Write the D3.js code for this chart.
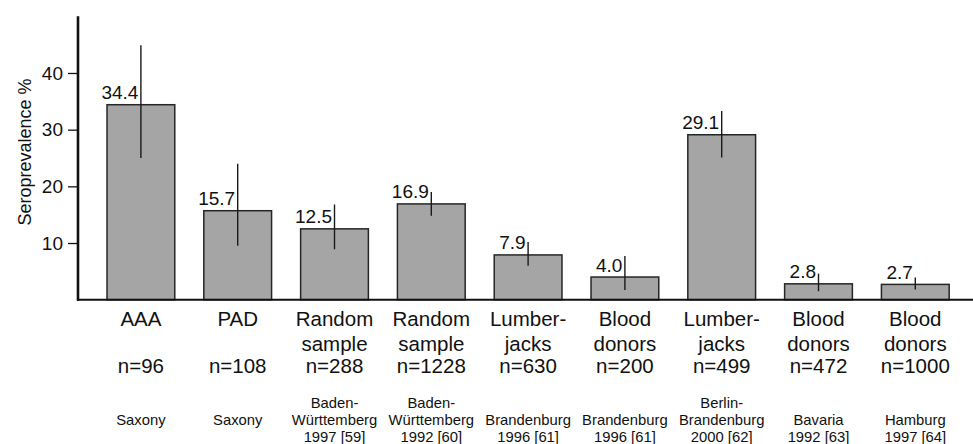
<!DOCTYPE html>
<meta charset="utf-8">
<body style="margin:0;background:#fff">

<svg width="973" height="444"></svg>

<script src="https://d3js.org/d3.v7.min.js"></script>
<script>

// data
var groups = ["AAA", "PAD", "Random sample", "Random sample", "Lumber- jacks",
  "Blood donors", "Lumber- jacks", "Blood donors", "Blood donors"];
var groupLines = [["AAA"], ["PAD"], ["Random", "sample"], ["Random", "sample"],
  ["Lumber-", "jacks"], ["Blood", "donors"], ["Lumber-", "jacks"], ["Blood", "donors"], ["Blood", "donors"]];
var sizes = ["n=96", "n=108", "n=288", "n=1228", "n=630", "n=200", "n=499", "n=472", "n=1000"];
var regions = [["", "Saxony", ""], ["", "Saxony", ""],
  ["Baden-", "Württemberg", "1997 [59]"], ["Baden-", "Württemberg", "1992 [60]"],
  ["", "Brandenburg", "1996 [61]"], ["", "Brandenburg", "1996 [61]"],
  ["Berlin-", "Brandenburg", "2000 [62]"], ["", "Bavaria", "1992 [63]"], ["", "Hamburg", "1997 [64]"]];
var values = [34.4, 15.7, 12.5, 16.9, 7.9, 4.0, 29.1, 2.8, 2.7];
var ciLow  = [25.0, 9.5, 8.9, 14.8, 6.0, 1.7, 25.1, 1.5, 1.8];
var ciHigh = [44.9, 24.0, 16.8, 19.0, 10.2, 7.7, 33.3, 4.6, 3.9];
var yTicks = [10, 20, 30, 40];

var svg = d3.select('svg');
var font = 'Liberation Sans, Arial, Helvetica, sans-serif';

var x = d3.scaleBand()
  .domain(d3.range(values.length))
  .range([92.5, 963.7])
  .paddingInner(0.3)
  .paddingOuter(0.15);

var y = d3.scaleLinear()
  .domain([0, 50])
  .range([299.7, 16.3]);

// bars
svg.append('g').selectAll('rect')
  .data(values)
  .join('rect')
  .attr('x', (d, i) => x(i))
  .attr('y', d => y(d))
  .attr('width', x.bandwidth())
  .attr('height', d => y(0) - y(d))
  .attr('fill', '#a4a5a4')
  .attr('stroke', '#262626')
  .attr('stroke-width', 1.5);

// error bars (plain vertical lines)
svg.append('g').selectAll('line')
  .data(values)
  .join('line')
  .attr('x1', (d, i) => x(i) + x.bandwidth() / 2)
  .attr('x2', (d, i) => x(i) + x.bandwidth() / 2)
  .attr('y1', (d, i) => y(ciHigh[i]))
  .attr('y2', (d, i) => y(ciLow[i]))
  .attr('stroke', '#1a1a1a')
  .attr('stroke-width', 1.4);

// value labels
svg.append('g').selectAll('text')
  .data(values)
  .join('text')
  .attr('x', (d, i) => x(i) + x.bandwidth() / 2 - 2.5)
  .attr('y', d => y(d) - 5.5)
  .attr('text-anchor', 'end')
  .attr('font-family', font)
  .attr('font-size', 19)
  .attr('fill', '#111')
  .text(d => d.toFixed(1));

// y axis
var yAxis = svg.append('g')
  .attr('transform', 'translate(78,0)')
  .call(d3.axisLeft(y).tickValues(yTicks).tickSize(10).tickPadding(5));
yAxis.select('.domain').remove();
yAxis.selectAll('.tick line').attr('stroke', '#111').attr('stroke-width', 1.3);
yAxis.selectAll('.tick text')
  .attr('font-family', font)
  .attr('font-size', 19)
  .attr('fill', '#111');

svg.append('line')
  .attr('x1', 78).attr('x2', 78)
  .attr('y1', y(50)).attr('y2', y(0) + 1)
  .attr('stroke', '#111')
  .attr('stroke-width', 2.6);

svg.append('line')
  .attr('x1', 77).attr('x2', 973)
  .attr('y1', y(0)).attr('y2', y(0))
  .attr('stroke', '#111')
  .attr('stroke-width', 2);

svg.append('text')
  .attr('transform', 'translate(31,152) rotate(-90)')
  .attr('text-anchor', 'middle')
  .attr('font-family', font)
  .attr('font-size', 18)
  .attr('fill', '#111')
  .text('Seroprevalence %');

// category labels
var cats = svg.append('g').selectAll('g')
  .data(groups)
  .join('g')
  .attr('transform', (d, i) => 'translate(' + (x(i) + x.bandwidth() / 2) + ',0)')
  .attr('font-family', font)
  .attr('text-anchor', 'middle')
  .attr('fill', '#111');

cats.each(function (d, i) {
  var g = d3.select(this);
  groupLines[i].forEach(function (t, k) {
    g.append('text').attr('y', 326 + k * 24.5).attr('font-size', 20.5).text(t);
  });
  g.append('text').attr('y', 373).attr('font-size', 20.5).text(sizes[i]);
  regions[i].forEach(function (t, k) {
    if (t) g.append('text').attr('y', 408 + k * 16.8).attr('font-size', 14.8).text(t);
  });
});

</script>
